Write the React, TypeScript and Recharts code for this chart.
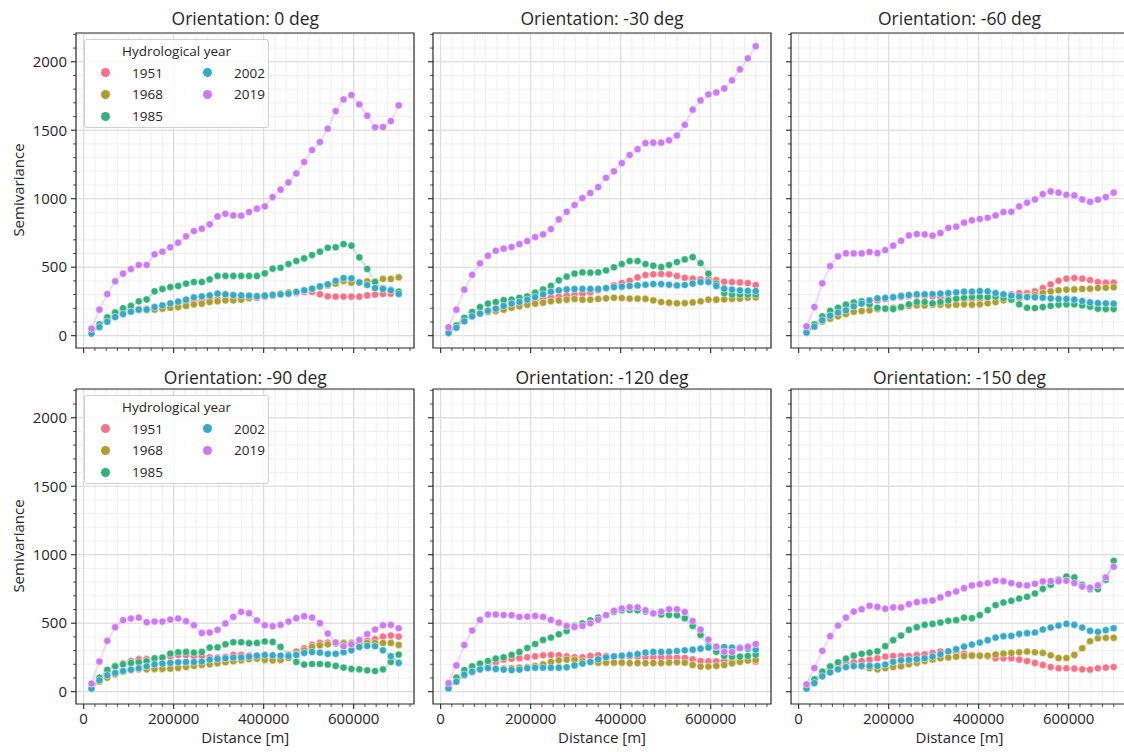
import React from "react";
import {
  ComposedChart,
  Line,
  Scatter,
  XAxis,
  YAxis,
  CartesianGrid,
  ReferenceArea,
} from "recharts";

const FONT = "'Open Sans', 'Noto Sans', 'DejaVu Sans', sans-serif";
const INK = "#262626";

// lag distances [m]
const distances = [
  17500, 35000, 52500, 70000, 87500, 105000, 122500, 140000, 157500, 175000,
  192500, 210000, 227500, 245000, 262500, 280000, 297500, 315000, 332500, 350000,
  367500, 385000, 402500, 420000, 437500, 455000, 472500, 490000, 507500, 525000,
  542500, 560000, 577500, 595000, 612500, 630000, 647500, 665000, 682500, 700000,
];

const years = ["1951", "1968", "1985", "2002", "2019"];
const colors = ["#f77189", "#ae9d31", "#33b07a", "#38a9c5", "#cc7af4"];

const xMajor = [0, 200000, 400000, 600000];
const yMajor = [0, 500, 1000, 1500, 2000];
const xMinor = Array.from({ length: 30 }, (_, i) => i * 25000);
const yMinor = Array.from({ length: 23 }, (_, i) => i * 100);
const xDomain: [number, number] = [-17000, 734000];
const yDomain: [number, number] = [-90, 2210];

// orientation 0 deg
const deg0_1951 = [27, 75, 119, 156, 175, 190, 195, 197, 209, 219, 229, 238, 246, 253, 258, 263, 265, 270, 275, 270, 273, 277, 285, 292, 299, 307, 311, 319, 319, 302, 287, 285, 285, 285, 285, 294, 299, 304, 307, 310];
const deg0_1968 = [27, 75, 124, 160, 180, 190, 190, 190, 190, 197, 204, 209, 217, 229, 234, 246, 251, 258, 258, 263, 275, 290, 294, 302, 307, 316, 321, 331, 341, 355, 367, 380, 399, 387, 392, 397, 397, 414, 414, 426];
const deg0_1985 = [39, 83, 134, 170, 200, 217, 251, 265, 324, 341, 355, 363, 380, 392, 392, 411, 436, 436, 436, 436, 436, 436, 455, 489, 496, 523, 545, 564, 589, 613, 642, 645, 669, 657, 572, 487, 392, 345, 335, 322];
const deg0_2002 = [15, 63, 102, 136, 158, 175, 190, 190, 209, 221, 236, 248, 263, 280, 287, 294, 307, 302, 297, 294, 292, 287, 292, 297, 302, 307, 319, 331, 343, 360, 375, 401, 421, 418, 389, 370, 348, 341, 331, 304];
const deg0_2019 = [51, 190, 304, 397, 453, 487, 516, 516, 594, 613, 645, 679, 725, 764, 781, 813, 871, 890, 878, 876, 903, 927, 944, 1012, 1066, 1119, 1185, 1268, 1355, 1414, 1511, 1640, 1725, 1757, 1689, 1606, 1521, 1523, 1567, 1681];

// orientation -30 deg
const deg30_1951 = [27, 71, 117, 144, 168, 185, 197, 209, 221, 234, 246, 258, 270, 280, 285, 292, 299, 307, 316, 331, 345, 367, 384, 401, 426, 443, 448, 450, 448, 436, 423, 416, 411, 411, 406, 394, 392, 389, 384, 370];
const deg30_1968 = [27, 71, 124, 148, 161, 173, 180, 190, 204, 214, 226, 234, 241, 251, 258, 263, 268, 263, 263, 268, 273, 277, 275, 270, 270, 268, 258, 246, 241, 236, 238, 243, 251, 263, 263, 265, 268, 270, 277, 280];
const deg30_1985 = [27, 75, 131, 173, 209, 234, 246, 260, 263, 277, 287, 314, 338, 363, 404, 431, 453, 462, 460, 462, 477, 499, 523, 545, 545, 523, 511, 501, 516, 538, 557, 574, 530, 453, 380, 310, 300, 300, 300, 300];
const deg30_2002 = [19, 58, 105, 141, 161, 182, 197, 217, 234, 246, 263, 282, 302, 321, 331, 338, 341, 341, 341, 341, 348, 355, 358, 363, 367, 372, 377, 377, 372, 367, 370, 380, 392, 392, 363, 343, 336, 331, 328, 326];
const deg30_2019 = [61, 190, 336, 445, 528, 584, 620, 635, 647, 669, 691, 720, 740, 778, 849, 905, 954, 1005, 1041, 1085, 1153, 1200, 1260, 1319, 1362, 1406, 1409, 1409, 1426, 1462, 1540, 1650, 1718, 1761, 1776, 1805, 1864, 1944, 2024, 2114];

// orientation -60 deg
const deg60_1951 = [27, 73, 117, 146, 180, 204, 226, 243, 253, 258, 268, 277, 282, 290, 294, 290, 287, 280, 273, 268, 265, 268, 268, 273, 277, 287, 302, 311, 311, 324, 348, 375, 401, 416, 421, 416, 406, 392, 387, 387];
const deg60_1968 = [22, 75, 102, 124, 141, 158, 175, 180, 185, 195, 200, 204, 209, 217, 221, 221, 226, 226, 224, 226, 229, 226, 229, 236, 246, 258, 268, 275, 287, 299, 311, 324, 331, 336, 338, 341, 343, 348, 350, 353];
const deg60_1985 = [27, 83, 141, 182, 204, 226, 243, 251, 229, 204, 197, 195, 209, 229, 246, 246, 236, 246, 258, 270, 277, 282, 285, 282, 285, 275, 263, 229, 204, 202, 209, 217, 226, 229, 229, 221, 212, 197, 195, 195];
const deg60_2002 = [22, 66, 112, 146, 168, 185, 214, 234, 258, 273, 277, 282, 290, 297, 302, 302, 304, 307, 311, 316, 321, 321, 326, 324, 311, 302, 292, 287, 282, 280, 277, 273, 268, 268, 263, 253, 243, 238, 236, 234];
const deg60_2019 = [68, 209, 382, 508, 579, 601, 601, 601, 611, 603, 625, 657, 693, 732, 742, 740, 730, 749, 788, 796, 825, 842, 852, 861, 878, 903, 905, 944, 971, 995, 1034, 1053, 1044, 1029, 1024, 995, 978, 993, 1012, 1044];

// orientation -90 deg
const deg90_1951 = [29, 90, 146, 188, 207, 224, 237, 237, 234, 246, 259, 268, 268, 261, 259, 251, 249, 254, 268, 268, 263, 254, 246, 244, 254, 268, 293, 317, 341, 356, 359, 359, 356, 354, 356, 371, 383, 402, 410, 402];
const deg90_1968 = [24, 73, 102, 127, 146, 156, 163, 163, 166, 166, 168, 173, 180, 188, 195, 200, 207, 215, 222, 229, 237, 241, 232, 229, 232, 246, 273, 302, 327, 339, 346, 351, 354, 356, 356, 356, 356, 356, 356, 341];
const deg90_1985 = [29, 102, 159, 185, 200, 210, 215, 222, 244, 249, 278, 288, 290, 285, 290, 322, 324, 346, 361, 361, 354, 356, 366, 363, 327, 268, 217, 198, 202, 202, 198, 188, 176, 166, 163, 156, 151, 163, 217, 271];
const deg90_2002 = [22, 83, 120, 137, 151, 161, 171, 185, 200, 205, 210, 215, 217, 217, 220, 234, 239, 244, 249, 249, 256, 263, 268, 266, 263, 261, 268, 283, 290, 285, 276, 276, 288, 302, 327, 334, 332, 302, 259, 210];
const deg90_2019 = [59, 220, 371, 471, 522, 534, 541, 507, 512, 512, 527, 534, 515, 485, 429, 432, 451, 498, 546, 583, 573, 520, 485, 478, 488, 512, 537, 551, 541, 500, 424, 359, 332, 346, 378, 420, 454, 485, 488, 463];

// orientation -120 deg
const deg120_1951 = [34, 78, 127, 156, 175, 195, 214, 234, 241, 244, 251, 258, 266, 268, 266, 258, 251, 251, 261, 266, 261, 258, 256, 256, 256, 253, 253, 251, 248, 248, 246, 236, 224, 222, 222, 224, 229, 229, 229, 219];
const deg120_1968 = [34, 78, 119, 144, 163, 171, 171, 168, 171, 175, 180, 188, 200, 217, 229, 234, 234, 224, 217, 212, 212, 212, 212, 209, 209, 209, 209, 209, 212, 214, 212, 195, 183, 183, 188, 195, 207, 217, 227, 231];
const deg120_1985 = [34, 102, 158, 185, 205, 224, 241, 251, 268, 290, 319, 348, 378, 395, 419, 443, 480, 499, 521, 541, 558, 582, 594, 597, 594, 585, 572, 563, 560, 558, 536, 480, 414, 334, 292, 261, 256, 256, 261, 270];
const deg120_2002 = [24, 73, 124, 146, 163, 173, 166, 161, 158, 161, 171, 175, 175, 175, 175, 178, 192, 205, 217, 236, 251, 258, 263, 268, 275, 285, 290, 290, 292, 297, 302, 307, 314, 322, 326, 326, 322, 322, 314, 307];
const deg120_2019 = [63, 192, 341, 446, 524, 563, 563, 560, 558, 546, 548, 553, 546, 524, 504, 480, 473, 480, 499, 526, 560, 590, 607, 616, 616, 594, 572, 585, 602, 602, 582, 516, 453, 380, 329, 292, 290, 317, 329, 348];

// orientation -150 deg
const deg150_1951 = [34, 76, 132, 171, 193, 205, 215, 224, 234, 244, 256, 261, 261, 261, 268, 273, 283, 293, 293, 288, 278, 268, 263, 258, 244, 244, 244, 234, 224, 210, 195, 180, 171, 171, 168, 163, 161, 171, 176, 180];
const deg150_1968 = [34, 83, 127, 151, 168, 180, 185, 185, 171, 163, 171, 180, 185, 200, 210, 224, 234, 244, 249, 256, 261, 263, 263, 263, 271, 278, 283, 288, 293, 288, 283, 266, 246, 246, 268, 317, 368, 390, 393, 393];
const deg150_1985 = [34, 90, 146, 185, 215, 241, 263, 276, 285, 295, 332, 376, 410, 451, 471, 488, 495, 505, 517, 522, 541, 537, 559, 595, 632, 651, 663, 680, 693, 717, 751, 780, 817, 841, 834, 780, 749, 749, 817, 956];
const deg150_2002 = [22, 63, 112, 141, 163, 180, 188, 188, 188, 188, 198, 217, 229, 232, 237, 244, 256, 273, 295, 310, 329, 344, 359, 376, 395, 405, 407, 422, 427, 432, 454, 468, 483, 495, 488, 468, 444, 437, 449, 463];
const deg150_2019 = [54, 173, 298, 405, 483, 541, 585, 602, 627, 619, 605, 615, 615, 639, 654, 661, 666, 688, 715, 732, 756, 776, 785, 793, 810, 807, 793, 780, 776, 788, 805, 807, 807, 810, 793, 768, 759, 776, 834, 912];

const panels = [
  { title: "Orientation: 0 deg", series: [deg0_1951, deg0_1968, deg0_1985, deg0_2002, deg0_2019] },
  { title: "Orientation: -30 deg", series: [deg30_1951, deg30_1968, deg30_1985, deg30_2002, deg30_2019] },
  { title: "Orientation: -60 deg", series: [deg60_1951, deg60_1968, deg60_1985, deg60_2002, deg60_2019] },
  { title: "Orientation: -90 deg", series: [deg90_1951, deg90_1968, deg90_1985, deg90_2002, deg90_2019] },
  { title: "Orientation: -120 deg", series: [deg120_1951, deg120_1968, deg120_1985, deg120_2002, deg120_2019] },
  { title: "Orientation: -150 deg", series: [deg150_1951, deg150_1968, deg150_1985, deg150_2002, deg150_2019] },
];

// subplot grid
const colLefts = [76.3, 433, 790.5];
const rowTops = [32.5, 388.5];
const PLOT_W = 338;
const PLOT_H = 315;
const Y_AXIS_W = 65;
const M = 5;

const makeXTick = (showLabel: boolean) => (props: any) => {
  const { x, y, payload } = props;
  const v = payload.value;
  const major = v % 200000 === 0;
  return (
    <g>
      <line x1={x} x2={x} y1={y} y2={y + (major ? 5 : 3)} stroke={INK} strokeWidth={major ? 1.1 : 0.8} />
      {showLabel && major && (
        <text x={x} y={y + 20} textAnchor="middle" fontSize={15} fontFamily={FONT} fill={INK}>
          {v}
        </text>
      )}
    </g>
  );
};

const makeYTick = (showLabel: boolean) => (props: any) => {
  const { x, y, payload } = props;
  const v = payload.value;
  const major = v % 500 === 0;
  return (
    <g>
      <line x1={x} x2={x - (major ? 5 : 3)} y1={y} y2={y} stroke={INK} strokeWidth={major ? 1.1 : 0.8} />
      {showLabel && major && (
        <text x={x - 9} y={y + 5.3} textAnchor="end" fontSize={15} fontFamily={FONT} fill={INK}>
          {v}
        </text>
      )}
    </g>
  );
};

const dotShape = (color: string) => (p: any) =>
  p.cx == null || p.cy == null ? <g /> : (
    <circle cx={p.cx} cy={p.cy} r={3.6} fill={color} stroke="#ffffff" strokeWidth={0.5} />
  );

function YearLegend({ left, top }: { left: number; top: number }) {
  const slots = [
    [20, 32.5], [20, 54], [20, 76], [122, 32.5], [122, 54],
  ];
  return (
    <div
      style={{
        position: "absolute",
        left,
        top,
        width: 185,
        height: 89,
        background: "rgba(255,255,255,0.85)",
        border: "1px solid #d0d0d0",
        borderRadius: 3,
        boxSizing: "border-box",
        fontFamily: FONT,
        color: INK,
      }}
    >
      <div style={{ position: "absolute", left: 0, width: 183, top: 2, textAlign: "center", fontSize: 13.5, lineHeight: "18px" }}>
        Hydrological year
      </div>
      {years.map((yr, k) => (
        <React.Fragment key={yr}>
          <div
            style={{
              position: "absolute",
              left: slots[k][0] - 4.5,
              top: slots[k][1] - 4.5,
              width: 9,
              height: 9,
              borderRadius: "50%",
              background: colors[k],
            }}
          />
          <div style={{ position: "absolute", left: slots[k][0] + 27, top: slots[k][1] - 9, fontSize: 13.5, lineHeight: "18px" }}>
            {yr}
          </div>
        </React.Fragment>
      ))}
    </div>
  );
}

function Panel({ index }: { index: number }) {
  const { title, series } = panels[index];
  const col = index % 3;
  const row = Math.floor(index / 3);
  const plotLeft = colLefts[col];
  const plotTop = rowTops[row];

  const rows = distances.map((d, i) => {
    const r: Record<string, number> = { d };
    years.forEach((yr, k) => {
      r["y" + yr] = series[k][i];
    });
    return r;
  });

  return (
    <>
      <div
        style={{
          position: "absolute",
          left: plotLeft,
          width: PLOT_W,
          top: row === 0 ? 6 : 365,
          textAlign: "center",
          fontFamily: FONT,
          fontSize: 17.5,
          lineHeight: "24px",
          color: INK,
        }}
      >
        {title}
      </div>
      <div style={{ position: "absolute", left: plotLeft - Y_AXIS_W - M, top: plotTop - M }}>
        <ComposedChart
          width={M + Y_AXIS_W + PLOT_W + M}
          height={M + PLOT_H + 45}
          data={rows}
          margin={{ top: M, right: M, bottom: 0, left: M }}
        >
          <CartesianGrid horizontalValues={yMinor} verticalValues={xMinor} stroke="#eeeeee" strokeWidth={0.8} />
          <CartesianGrid horizontalValues={yMajor} verticalValues={xMajor} stroke="#d9d9d9" strokeWidth={1} />
          <XAxis
            dataKey="d"
            type="number"
            domain={xDomain}
            ticks={xMinor}
            interval={0}
            height={45}
            tickSize={0}
            tickMargin={0}
            tickLine={false}
            axisLine={false}
            allowDataOverflow
            tick={makeXTick(row === 1)}
          />
          <YAxis
            type="number"
            domain={yDomain}
            ticks={yMinor}
            interval={0}
            width={Y_AXIS_W}
            tickSize={0}
            tickMargin={0}
            tickLine={false}
            axisLine={false}
            allowDataOverflow
            tick={makeYTick(col === 0)}
          />
          {years.map((yr, k) => (
            <Line
              key={"l" + yr}
              type="linear"
              dataKey={"y" + yr}
              stroke={colors[k]}
              strokeOpacity={0.28}
              strokeWidth={2}
              dot={false}
              activeDot={false}
              isAnimationActive={false}
            />
          ))}
          {years.map((yr, k) => (
            <Scatter
              key={"s" + yr}
              dataKey={"y" + yr}
              fill={colors[k]}
              shape={dotShape(colors[k])}
              isAnimationActive={false}
            />
          ))}
          <ReferenceArea
            x1={xDomain[0]}
            x2={xDomain[1]}
            y1={yDomain[0]}
            y2={yDomain[1]}
            fill="none"
            stroke={INK}
            strokeWidth={1.2}
            ifOverflow="visible"
          />
        </ComposedChart>
      </div>
      {col === 0 && <YearLegend left={plotLeft + 7.7} top={plotTop + 6.5} />}
    </>
  );
}

export default function App() {
  return (
    <div
      style={{
        position: "absolute",
        left: 0,
        top: 0,
        width: 1124,
        height: 752,
        overflow: "hidden",
        background: "#ffffff",
      }}
    >
      {panels.map((_, i) => (
        <Panel key={i} index={i} />
      ))}
      <svg width={1124} height={752} style={{ position: "absolute", left: 0, top: 0, pointerEvents: "none" }}>
        {rowTops.map((t) => (
          <text
            key={"sv" + t}
            x={18}
            y={t + PLOT_H / 2}
            transform={`rotate(-90 18 ${t + PLOT_H / 2})`}
            textAnchor="middle"
            dominantBaseline="central"
            fontSize={15}
            fontFamily={FONT}
            fill={INK}
          >
            Semivariance
          </text>
        ))}
        {colLefts.map((l) => (
          <text
            key={"dist" + l}
            x={l + PLOT_W / 2}
            y={743}
            textAnchor="middle"
            fontSize={15}
            fontFamily={FONT}
            fill={INK}
          >
            Distance [m]
          </text>
        ))}
      </svg>
    </div>
  );
}
